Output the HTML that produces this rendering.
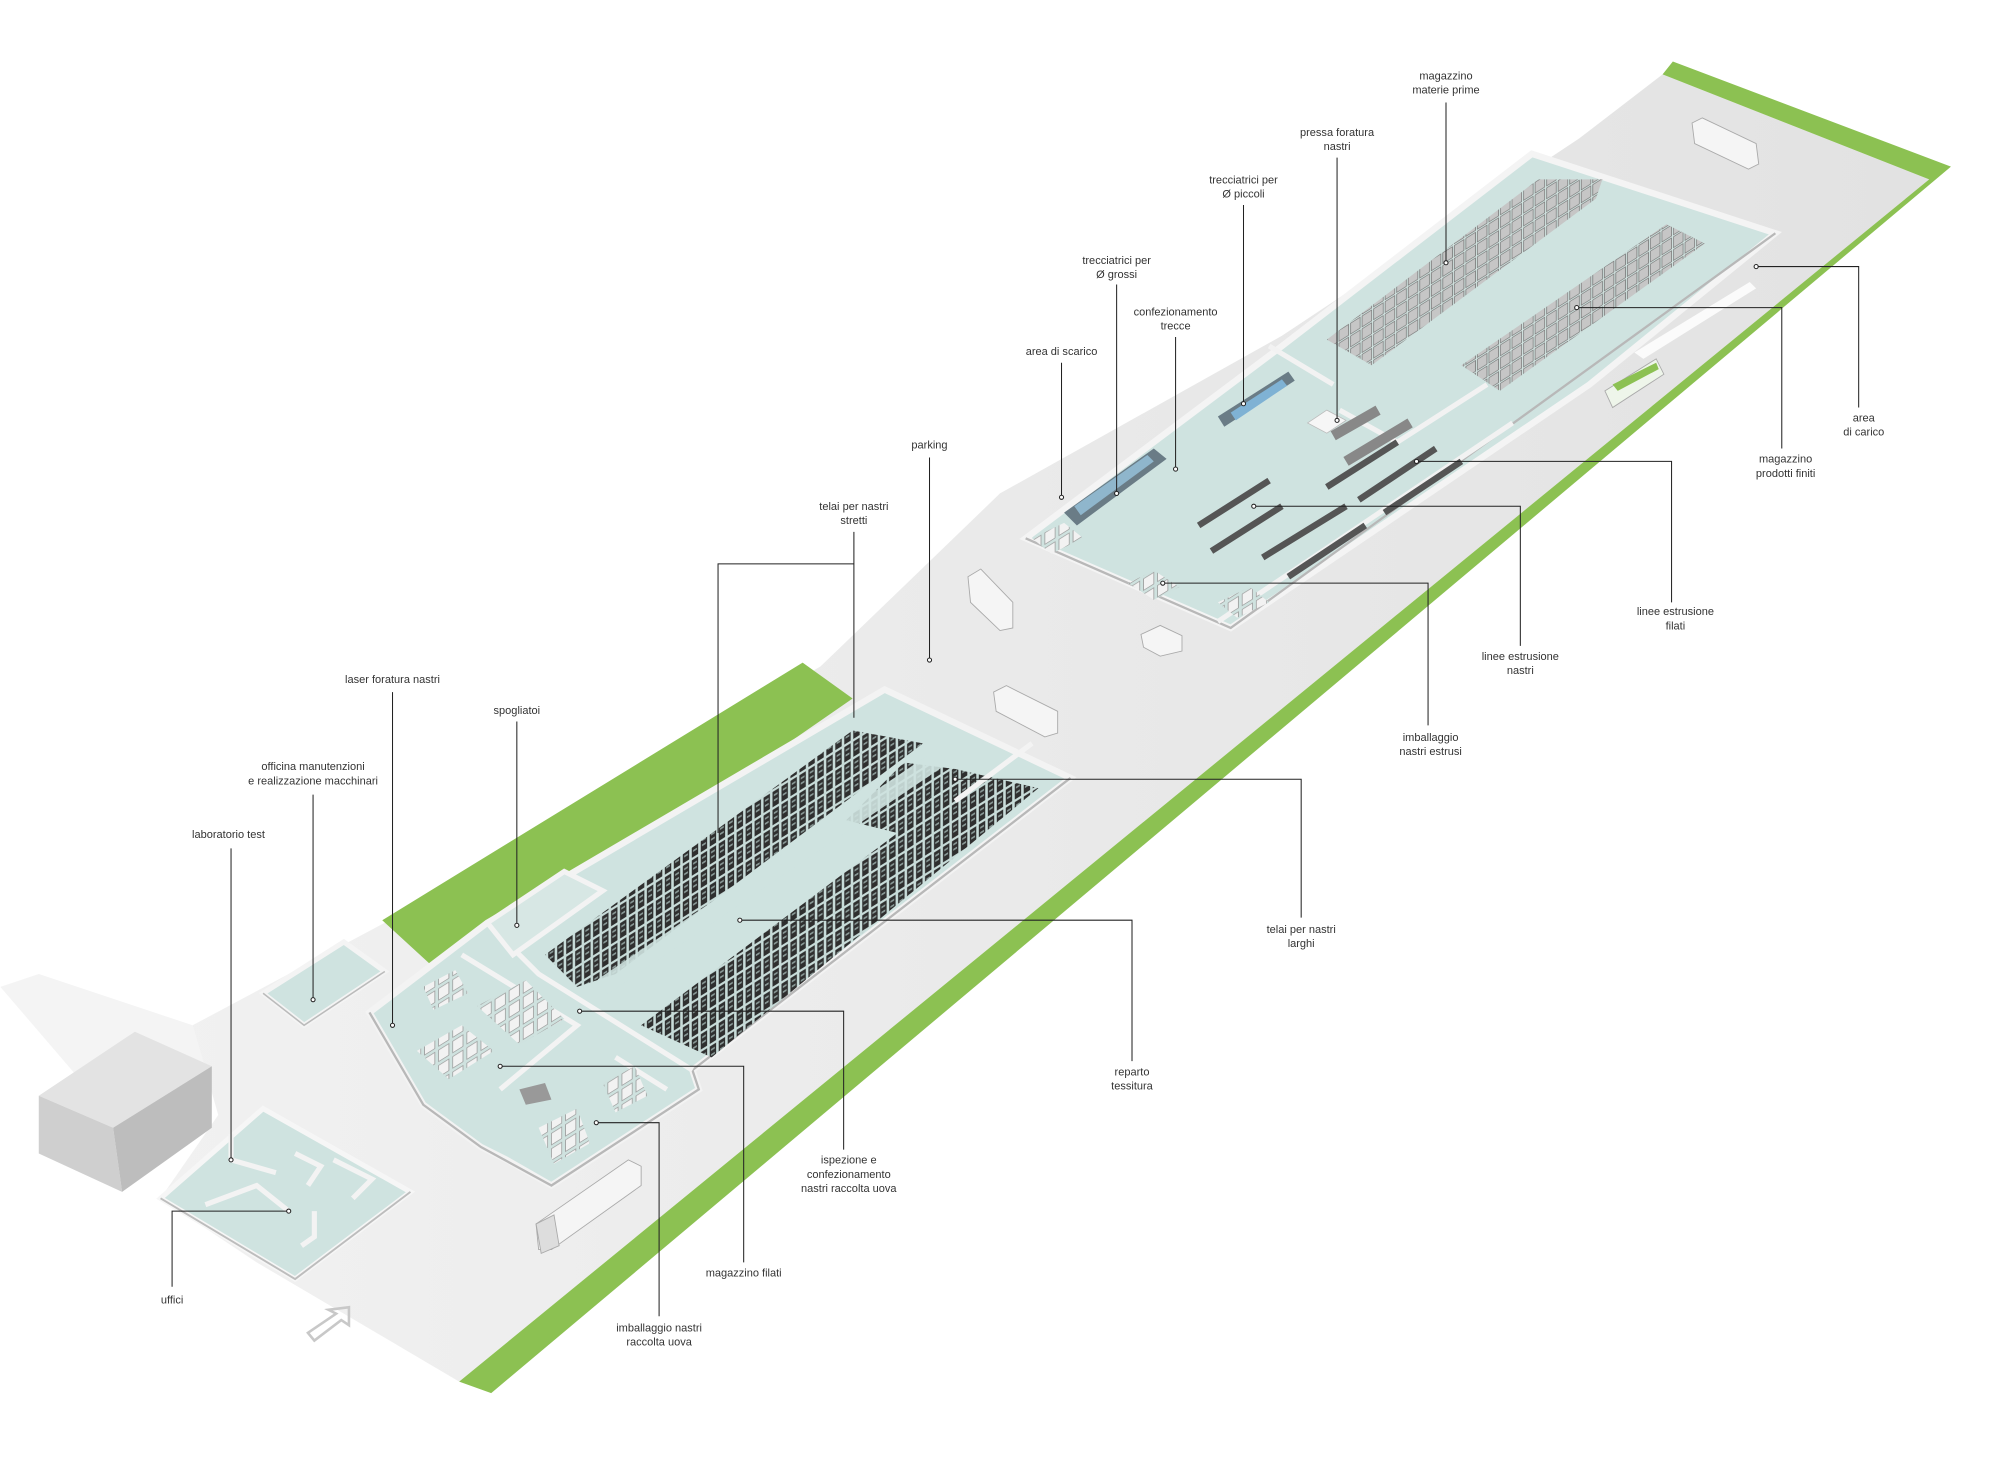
<!DOCTYPE html>
<html><head><meta charset="utf-8"><style>
html,body{margin:0;padding:0;background:#fff;}
svg{display:block}
text{font-family:"Liberation Sans Narrow","Liberation Sans",sans-serif;font-size:8.6px;fill:#333;text-anchor:middle}
</style></head><body>
<svg width="2000" height="1470" viewBox="0 0 1560 1147" xmlns="http://www.w3.org/2000/svg">
<defs>
<linearGradient id="gnd" x1="0" y1="0" x2="1" y2="0">
<stop offset="0" stop-color="#f1f1f1"/><stop offset="1" stop-color="#e2e2e2"/></linearGradient>
<pattern id="rack" width="7" height="14" patternUnits="userSpaceOnUse" patternTransform="skewY(-32)">
<rect width="7" height="14" fill="#c8dcd9"/>
<rect x="0.5" y="0.5" width="5" height="12" fill="#2f2f2f"/>
<rect x="1.5" y="3" width="3" height="1.5" fill="#8a9a98"/>
<rect x="1.5" y="7" width="3" height="1.5" fill="#8a9a98"/>
</pattern>
<pattern id="pal" width="11" height="12" patternUnits="userSpaceOnUse" patternTransform="skewY(-32)">
<rect width="11" height="12" fill="#cfe2df"/>
<rect x="1" y="1" width="8" height="9" fill="#f2f2f2" stroke="#9a9a9a" stroke-width="0.6"/>
</pattern>
<pattern id="pal2" width="9" height="10" patternUnits="userSpaceOnUse" patternTransform="skewY(-32)">
<rect width="9" height="10" fill="#d4e6e3"/>
<rect x="0.5" y="0.5" width="7.5" height="8.5" fill="#c6c6c6" stroke="#777" stroke-width="0.6"/>
</pattern>
</defs>

<!-- ground -->
<polygon points="1297,58 1505,140 358,1078 200,985 125,935 170,870 150,800 300,720 640,520 780,385 1000,262 1232,108" fill="url(#gnd)"/>
<polygon points="0,770 30,760 150,800 165,850 60,840" fill="#f4f4f4"/>
<!-- green strips -->
<polygon points="1297,58 1305,48 1522,130 383,1087 358,1078 1505,140" fill="#8cc152"/>
<polygon points="298,718 626,517 665,545 470,680 385,718 335,752" fill="#8cc152"/>

<!-- left box building -->
<polygon points="30,855 105,805 165,832 88,880" fill="#e3e3e3"/>
<polygon points="30,855 88,880 95,930 30,900" fill="#cfcfcf"/>
<polygon points="88,880 165,832 165,880 95,930" fill="#bdbdbd"/>

<!-- uffici -->
<polygon points="125,935 205,865 320,930 230,998" fill="#cfe3e0" stroke="#f6f6f6" stroke-width="4"/>
<path d="M180,885 L180,905 L215,915 M230,900 L250,910 L240,925 M160,940 L200,925 L225,945 M260,905 L290,920 L275,935 M245,945 L245,965 L235,972" stroke="#f3f3f3" stroke-width="4" fill="none"/>
<path d="M125,935 L230,998 L320,930" stroke="#bdbdbd" stroke-width="1.5" fill="none"/>

<!-- officina -->
<polygon points="205,775 268,735 300,758 237,800" fill="#cfe3e0" stroke="#f4f4f4" stroke-width="4"/>
<path d="M205,775 L237,800 L300,758" stroke="#bbb" stroke-width="1.2" fill="none"/>

<!-- lower building floor -->
<polygon points="288,790 380,720 690,538 835,607 540,835 545,850 430,925 395,905 375,895 330,862" fill="#cfe3e0" stroke="#f3f3f3" stroke-width="5"/>
<path d="M288,790 L330,862 L375,895 L430,925 L545,850 L540,835 L835,607" stroke="#b8b8b8" stroke-width="1.8" fill="none"/>
<!-- weaving area racks -->
<polygon points="425,745 665,570 720,580 560,700 480,760 450,770" fill="url(#rack)"/>
<polygon points="500,800 700,650 745,600 810,615 555,825" fill="url(#rack)"/>
<polygon points="705,595 745,600 700,650 660,640" fill="url(#rack)"/>
<!-- aisle -->
<path d="M470,770 L735,590" stroke="#cfe3e0" stroke-width="14" opacity="0.9"/>
<!-- internal walls -->
<path d="M380,720 L420,760 L540,835 M745,625 L805,580 M360,745 L450,800 L390,850 M480,825 L520,850" stroke="#f3f3f3" stroke-width="4" fill="none"/>
<!-- pallets in magazzino filati -->
<polygon points="325,820 360,800 385,820 350,842" fill="url(#pal)"/>
<polygon points="372,785 410,765 440,795 405,815" fill="url(#pal)"/>
<polygon points="330,770 355,757 365,775 338,788" fill="url(#pal)"/>
<polygon points="470,845 495,832 505,855 480,868" fill="url(#pal)"/>
<polygon points="420,880 450,865 460,892 432,908" fill="url(#pal)"/>
<polygon points="405,850 425,845 430,858 410,862" fill="#999"/>
<!-- changing rooms -->
<polygon points="380,720 440,680 470,695 400,745" fill="#d7e7e4" stroke="#f3f3f3" stroke-width="4"/>

<!-- upper building -->
<polygon points="800,420 1000,270 1195,120 1385,182 1240,300 960,490" fill="#cfe3e0" stroke="#f4f4f4" stroke-width="5"/>
<path d="M800,420 L960,490 L1385,182" stroke="#b8b8b8" stroke-width="1.8" fill="none"/>
<path d="M990,270 L1040,300 M1160,300 L1090,345 L1045,320 M950,485 L1180,330" stroke="#f2f2f2" stroke-width="4" fill="none"/>
<!-- raw materials / finished products racks -->
<polygon points="1035,265 1200,140 1250,140 1245,155 1070,285" fill="url(#pal2)"/>
<polygon points="1140,285 1300,175 1330,190 1170,305" fill="url(#pal2)"/>
<!-- machinery -->
<polygon points="830,400 900,350 910,358 840,410" fill="#6a7c86"/>
<polygon points="838,395 895,355 900,360 843,402" fill="#8fb6cc"/>
<polygon points="950,325 1005,290 1010,297 955,333" fill="#6a7c86"/>
<polygon points="960,322 1000,296 1004,301 964,328" fill="#7fb2d4"/>
<path d="M935,410 L990,375 M945,430 L1000,395 M985,435 L1050,395 M1005,450 L1065,410 M1035,380 L1090,345 M1060,390 L1120,350 M1080,400 L1140,360" stroke="#555" stroke-width="5"/>
<path d="M1040,340 L1075,320 M1050,360 L1100,330" stroke="#888" stroke-width="8"/>
<polygon points="1020,330 1035,320 1050,328 1035,338" fill="#f6f6f6" stroke="#bbb" stroke-width="0.6"/>
<polygon points="880,455 900,445 920,458 900,468" fill="url(#pal)"/>
<polygon points="950,470 975,458 990,470 965,482" fill="url(#pal)"/>
<polygon points="805,420 830,408 845,420 820,432" fill="url(#pal)"/>
<!-- white strip near upper building -->
<polygon points="1275,275 1365,220 1370,225 1282,280" fill="#fbfbfb"/>

<!-- trucks -->
<g fill="#f5f5f5" stroke="#aaa" stroke-width="0.7">
<polygon points="1320,96 1328,92 1370,112 1372,128 1364,132 1322,112"/>
<polygon points="1252,305 1292,280 1298,292 1258,318" fill="#eef5ea"/>
<polygon points="1258,300 1292,283 1294,288 1262,305" fill="#8cc152" stroke="none"/>
<polygon points="755,450 765,444 790,470 790,490 780,492 757,470"/>
<polygon points="890,495 905,488 922,496 922,508 905,512 892,505"/>
<polygon points="775,540 785,535 825,555 825,572 815,575 777,555"/>
<polygon points="418,955 490,905 500,910 500,925 430,975 420,975"/>
<polygon points="418,955 432,948 436,972 422,978" fill="#ddd"/>
</g>
<!-- arrow -->
<path d="M240,1040 L262,1025 L256,1022 L272,1020 L272,1034 L266,1030 L245,1046 Z" fill="none" stroke="#c8c8c8" stroke-width="2"/>

<!-- leader lines -->
<g stroke="#222" stroke-width="0.8" fill="none">
<path d="M1128,80 V205"/><path d="M1043,123 V328"/><path d="M970,160 V315"/>
<path d="M871,222 V385"/><path d="M917,263 V366"/><path d="M828,283 V388"/>
<path d="M725,357 V515"/>
<path d="M666,415 V560"/><path d="M666,440 H560 V650"/>
<path d="M306,540 V800"/><path d="M403,563 V722"/><path d="M244,620 V780"/>
<path d="M180,662 V905"/>
<path d="M134,1004 V945 H225"/>
<path d="M514,1027 V876 H465"/>
<path d="M580,985 V832 H390"/>
<path d="M658,897 V789 H452"/>
<path d="M883,828 V718 H577"/>
<path d="M1015,716 V608 H745"/>
<path d="M1114,566 V455 H907"/>
<path d="M1186,504 V395 H978"/>
<path d="M1304,470 V360 H1105"/>
<path d="M1390,350 V240 H1230"/>
<path d="M1450,318 V208 H1370"/>
</g>
<g fill="#fff" stroke="#222" stroke-width="0.8">
<circle cx="1128" cy="205" r="1.6"/><circle cx="1043" cy="328" r="1.6"/><circle cx="970" cy="315" r="1.6"/>
<circle cx="871" cy="385" r="1.6"/><circle cx="917" cy="366" r="1.6"/><circle cx="828" cy="388" r="1.6"/>
<circle cx="725" cy="515" r="1.6"/><circle cx="306" cy="800" r="1.6"/><circle cx="403" cy="722" r="1.6"/>
<circle cx="244" cy="780" r="1.6"/><circle cx="180" cy="905" r="1.6"/><circle cx="225" cy="945" r="1.6"/>
<circle cx="465" cy="876" r="1.6"/><circle cx="390" cy="832" r="1.6"/><circle cx="452" cy="789" r="1.6"/>
<circle cx="577" cy="718" r="1.6"/><circle cx="745" cy="608" r="1.6"/><circle cx="907" cy="455" r="1.6"/>
<circle cx="978" cy="395" r="1.6"/><circle cx="1105" cy="360" r="1.6"/><circle cx="1230" cy="240" r="1.6"/>
<circle cx="1370" cy="208" r="1.6"/>
</g>

<!-- labels -->
<text x="1128" y="62">magazzino</text><text x="1128" y="73">materie prime</text>
<text x="1043" y="106">pressa foratura</text><text x="1043" y="117">nastri</text>
<text x="970" y="143">trecciatrici per</text><text x="970" y="154">Ø piccoli</text>
<text x="871" y="206">trecciatrici per</text><text x="871" y="217">Ø grossi</text>
<text x="917" y="246">confezionamento</text><text x="917" y="257">trecce</text>
<text x="828" y="277">area di scarico</text>
<text x="725" y="350">parking</text>
<text x="666" y="398">telai per nastri</text><text x="666" y="409">stretti</text>
<text x="306" y="533">laser foratura nastri</text>
<text x="403" y="557">spogliatoi</text>
<text x="244" y="601">officina manutenzioni</text><text x="244" y="612">e realizzazione macchinari</text>
<text x="178" y="654">laboratorio test</text>
<text x="134" y="1017">uffici</text>
<text x="514" y="1039">imballaggio nastri</text><text x="514" y="1050">raccolta uova</text>
<text x="580" y="996">magazzino filati</text>
<text x="662" y="908">ispezione e</text><text x="662" y="919">confezionamento</text><text x="662" y="930">nastri raccolta uova</text>
<text x="883" y="839">reparto</text><text x="883" y="850">tessitura</text>
<text x="1015" y="728">telai per nastri</text><text x="1015" y="739">larghi</text>
<text x="1116" y="578">imballaggio</text><text x="1116" y="589">nastri estrusi</text>
<text x="1186" y="515">linee estrusione</text><text x="1186" y="526">nastri</text>
<text x="1307" y="480">linee estrusione</text><text x="1307" y="491">filati</text>
<text x="1393" y="361">magazzino</text><text x="1393" y="372">prodotti finiti</text>
<text x="1454" y="329">area</text><text x="1454" y="340">di carico</text>
</svg>
</body></html>
